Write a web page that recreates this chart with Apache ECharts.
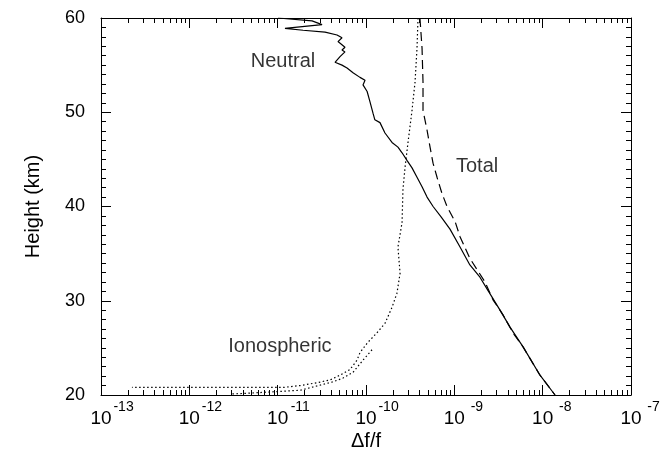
<!DOCTYPE html>
<html>
<head>
<meta charset="utf-8">
<script src="https://cdn.jsdelivr.net/npm/echarts@6/dist/echarts.min.js"></script>
<style>
html, body { margin: 0; padding: 0; background: #fff; }
#chart { width: 666px; height: 462px; }
</style>
</head>
<body>
<div id="chart"></div>
<script>
// heights (km) and delta f / f
var neutralHeight = [60.0, 59.7, 59.3, 58.9, 58.7, 58.5, 58.2, 57.9, 57.5, 56.9, 56.6, 56.4, 55.9, 55.3, 55.0, 54.7, 54.2, 53.7, 53.4, 52.9, 52.2, 51.1, 49.9, 49.2, 48.9, 47.8, 46.8, 46.3, 45.7, 44.9, 44.1, 43.1, 42.1, 41.0, 40.0, 38.9, 37.6, 35.7, 33.8, 32.5, 31.1, 29.0, 27.2, 25.1, 22.1, 20.0];
var neutralValue = [1.01e-11, 2.45e-11, 3.18e-11, 1.21e-11, 1.94e-11, 3.44e-11, 4.70e-11, 5.35e-11, 4.82e-11, 5.78e-11, 5.35e-11, 5.78e-11, 5.08e-11, 4.46e-11, 5.35e-11, 6.10e-11, 7.13e-11, 8.55e-11, 9.75e-11, 9.25e-11, 1.03e-10, 1.11e-10, 1.20e-10, 1.26e-10, 1.44e-10, 1.64e-10, 1.97e-10, 2.30e-10, 2.56e-10, 2.91e-10, 3.32e-10, 3.78e-10, 4.31e-10, 4.91e-10, 5.75e-10, 7.08e-10, 8.93e-10, 1.16e-9, 1.50e-9, 1.95e-9, 2.40e-9, 3.29e-9, 4.27e-9, 6.00e-9, 9.33e-9, 1.38e-8];

var ionoHeight = [60.0, 56.8, 53.2, 50.2, 46.8, 44.2, 41.8, 38.3, 35.7, 32.9, 30.8, 29.3, 27.6, 26.6, 25.5, 24.5, 23.7, 22.7, 22.1, 21.6, 21.3, 21.0, 20.8, 20.8, 20.8];
var ionoValue = [3.88e-10, 3.78e-10, 3.59e-10, 3.32e-10, 2.99e-10, 2.77e-10, 2.62e-10, 2.56e-10, 2.30e-10, 2.43e-10, 2.24e-10, 1.97e-10, 1.64e-10, 1.33e-10, 1.03e-10, 8.55e-11, 7.91e-11, 6.59e-11, 5.08e-11, 3.92e-11, 2.79e-11, 1.79e-11, 1.15e-11, 4.86e-12, 2.24e-13];
// second, lower ionospheric trace near the ground
var ionoLowHeight = [24.8, 23.7, 22.4, 21.8, 21.4, 20.5, 20.2, 20.1];
var ionoLowValue = [1.17e-10, 9.25e-11, 7.13e-11, 5.50e-11, 4.24e-11, 1.79e-11, 4.86e-12, 2.88e-12];

var totalHeight = [60.0, 56.8, 53.2, 50.2, 48.1, 46.3, 44.6, 43.1, 41.4, 40.0, 38.4, 36.8, 34.5, 33.3, 32.0, 30.1, 28.5, 26.6, 25.1, 22.1, 20.0];
var totalValue = [4.08e-10, 4.31e-10, 4.42e-10, 4.42e-10, 4.91e-10, 5.31e-10, 5.74e-10, 6.37e-10, 7.24e-10, 8.26e-10, 1.02e-9, 1.16e-9, 1.50e-9, 1.81e-9, 2.22e-9, 2.74e-9, 3.56e-9, 4.61e-9, 6.00e-9, 9.33e-9, 1.38e-8];

var curveLabels = ['Neutral', 'Total', 'Ionospheric'];
var curveLabelPos = [[1.15e-11, 55.4], [1.81e-9, 44.2], [1.06e-11, 25.1]];

var xDecades = [-13, -12, -11, -10, -9, -8];
var xMinorSteps = [2, 3, 4, 5, 6, 7, 8, 9];

function pairs(vals, hs) {
    return vals.map(function (v, i) { return [v, hs[i]]; });
}

var minorTicks = [];
xDecades.forEach(function (d) {
    xMinorSteps.forEach(function (m) { minorTicks.push([m * Math.pow(10, d), 40]); });
});

var FONT = '"Liberation Sans", Arial, Helvetica, sans-serif';
var chart = echarts.init(document.getElementById('chart'));

var xBase = {
    type: 'log',
    logBase: 10,
    min: 1e-13,
    max: 1e-7,
    splitNumber: 6,
    axisLine: { show: true, lineStyle: { color: '#000', width: 1 } },
    axisTick: { show: true, inside: true, length: 10, lineStyle: { color: '#000' } },
    splitLine: { show: false },
    minorTick: { show: false }
};
var yBase = {
    type: 'value',
    min: 20,
    max: 60,
    interval: 10,
    axisLine: { show: true, lineStyle: { color: '#000', width: 1 } },
    axisTick: { show: true, inside: true, length: 10, lineStyle: { color: '#000' } },
    minorTick: { show: true, splitNumber: 10, length: 5, lineStyle: { color: '#000' } },
    splitLine: { show: false }
};

var option = {
    animation: false,
    backgroundColor: '#fff',
    textStyle: { fontFamily: FONT },
    grid: { left: 101, right: 35, top: 18, bottom: 67, containLabel: false, outerBoundsMode: 'none' },
    xAxis: [
        Object.assign({}, xBase, {
            position: 'bottom',
            name: '\u0394f/f',
            nameLocation: 'middle',
            nameGap: 36,
            nameMoveOverlap: false,
            nameTextStyle: { fontSize: 20, color: '#000', fontFamily: FONT },
            axisLabel: {
                margin: 5,
                color: '#000',
                formatter: function (v) {
                    var e = Math.round(Math.log10(v));
                    return '{p| }{b|10}{s|' + e + '}';
                },
                rich: {
                    p: { width: 24, lineHeight: 28, fontSize: 14 },
                    b: { fontSize: 19, fontFamily: FONT, color: '#000', lineHeight: 22, verticalAlign: 'bottom' },
                    s: { fontSize: 14, fontFamily: FONT, color: '#000', lineHeight: 14, width: 24, align: 'left', verticalAlign: 'top' }
                }
            }
        }),
        Object.assign({}, xBase, { position: 'top', axisLabel: { show: false } })
    ],
    yAxis: [
        Object.assign({}, yBase, {
            position: 'left',
            name: 'Height (km)',
            nameLocation: 'middle',
            nameGap: 58,
            nameMoveOverlap: false,
            nameTextStyle: { fontSize: 20, color: '#000', fontFamily: FONT },
            axisLabel: { margin: 16, fontSize: 18, color: '#000', fontFamily: FONT }
        }),
        Object.assign({}, yBase, { position: 'right', axisLabel: { show: false } })
    ],
    series: [
        {
            name: 'Neutral', type: 'line', xAxisIndex: 0, yAxisIndex: 0,
            data: pairs(neutralValue, neutralHeight),
            showSymbol: false, symbol: 'none',
            lineStyle: { color: '#000', width: 1.2, type: 'solid' }
        },
        {
            name: 'Ionospheric', type: 'line', xAxisIndex: 0, yAxisIndex: 0,
            data: pairs(ionoValue, ionoHeight),
            showSymbol: false, symbol: 'none',
            lineStyle: { color: '#000', width: 1.2, type: [1.5, 2.5] }
        },
        {
            name: 'Ionospheric low', type: 'line', xAxisIndex: 0, yAxisIndex: 0,
            data: pairs(ionoLowValue, ionoLowHeight),
            showSymbol: false, symbol: 'none',
            lineStyle: { color: '#000', width: 1.2, type: [1.5, 2.5] }
        },
        {
            name: 'Total', type: 'line', xAxisIndex: 0, yAxisIndex: 0,
            data: pairs(totalValue, totalHeight),
            showSymbol: false, symbol: 'none',
            lineStyle: { color: '#000', width: 1.2, type: [9, 5] }
        },
        {
            name: 'labels', type: 'scatter', xAxisIndex: 0, yAxisIndex: 0,
            symbolSize: 0,
            silent: true,
            data: curveLabels.map(function (n, i) { return { name: n, value: curveLabelPos[i] }; }),
            label: {
                show: true, position: 'inside', formatter: '{b}',
                fontSize: 20, color: '#000', textBorderWidth: 0, fontFamily: FONT
            }
        },
        {
            name: 'xMinorTicks', type: 'custom', xAxisIndex: 0, yAxisIndex: 0,
            silent: true,
            clip: false,
            data: minorTicks,
            encode: { x: 0, y: 1 },
            renderItem: function (params, api) {
                var p = api.coord([api.value(0), api.value(1)]);
                var cs = params.coordSys;
                var x = Math.round(p[0]) + 0.5;
                var yb = cs.y + cs.height, yt = cs.y;
                return {
                    type: 'group',
                    children: [
                        { type: 'line', shape: { x1: x, y1: yb, x2: x, y2: yb - 5 }, style: { stroke: '#000', lineWidth: 1 } },
                        { type: 'line', shape: { x1: x, y1: yt, x2: x, y2: yt + 5 }, style: { stroke: '#000', lineWidth: 1 } }
                    ]
                };
            }
        }
    ]
};

chart.setOption(option);
</script>
</body>
</html>
